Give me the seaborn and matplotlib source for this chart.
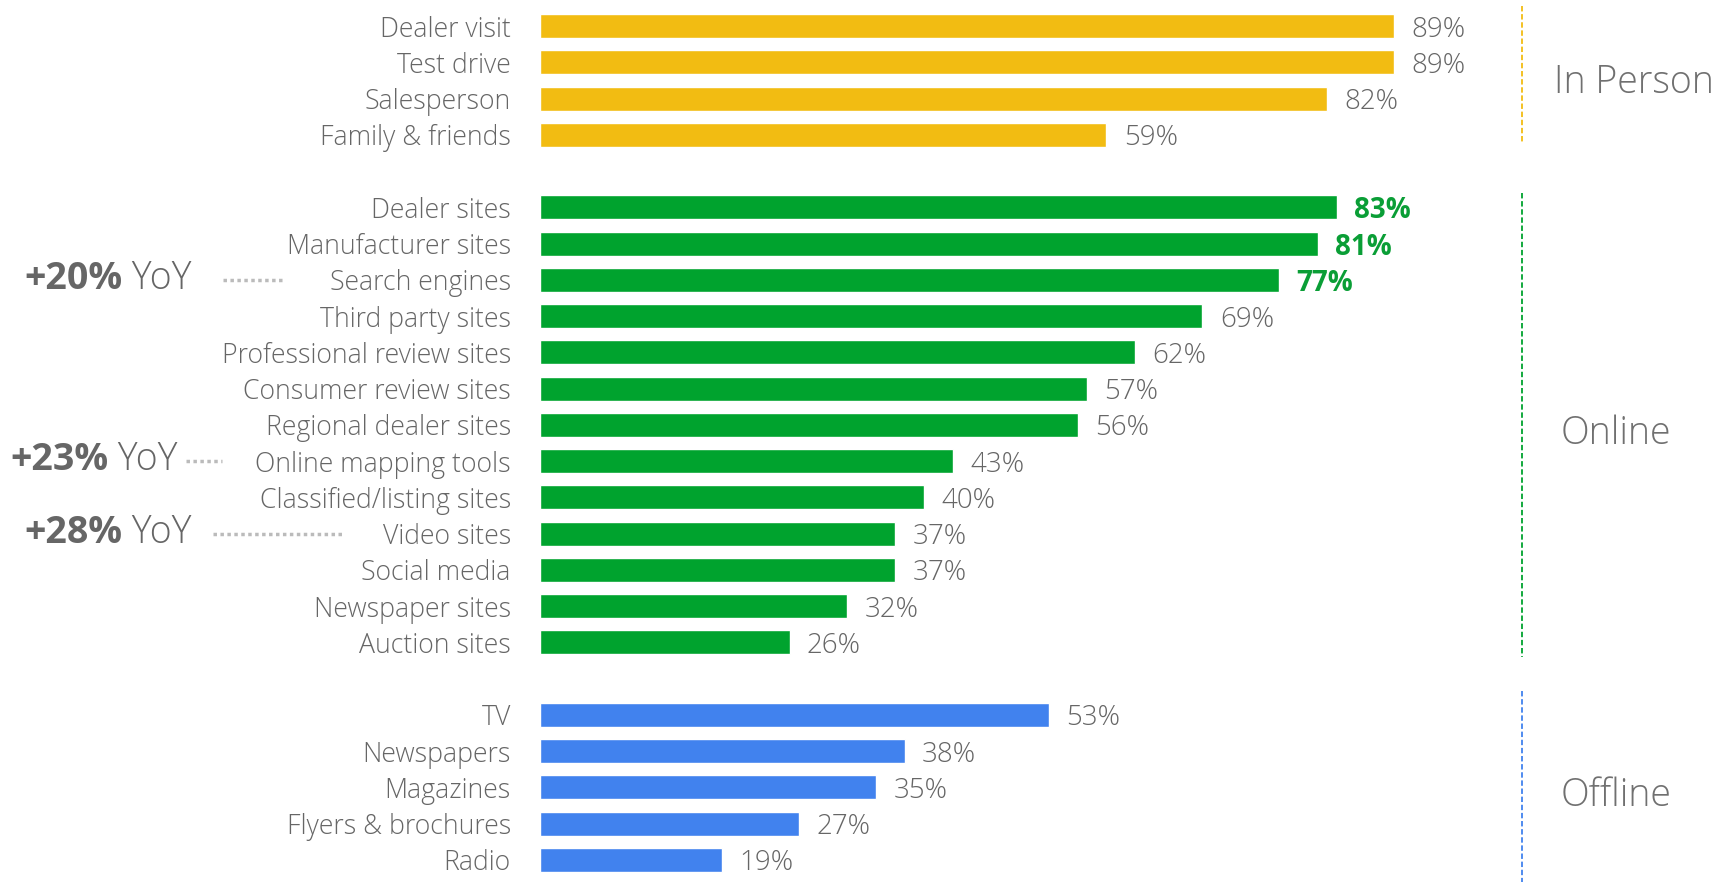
import matplotlib
matplotlib.use('Agg')
import matplotlib.pyplot as plt
import matplotlib.transforms as mtransforms
import seaborn as sns
import pandas as pd

# данные
in_person = ['Dealer visit', 'Test drive', 'Salesperson', 'Family & friends']
in_person_vals = [89, 89, 82, 59]
online = ['Dealer sites', 'Manufacturer sites', 'Search engines', 'Third party sites',
          'Professional review sites', 'Consumer review sites', 'Regional dealer sites',
          'Online mapping tools', 'Classified/listing sites', 'Video sites', 'Social media',
          'Newspaper sites', 'Auction sites']
online_vals = [83, 81, 77, 69, 62, 57, 56, 43, 40, 37, 37, 32, 26]
offline = ['TV', 'Newspapers', 'Magazines', 'Flyers & brochures', 'Radio']
offline_vals = [53, 38, 35, 27, 19]
group_names = ['In Person', 'Online', 'Offline']
highlighted = ['Dealer sites', 'Manufacturer sites', 'Search engines']
yoy_rows = ['Search engines', 'Online mapping tools', 'Video sites']
yoy_labels = ['+20%', '+23%', '+28%']

colors = {'In Person': '#F2BC12', 'Online': '#00A32E', 'Offline': '#4182EE'}
GRAY = '#666666'

sns.set_style('white')
plt.rcParams['font.family'] = ['Open Sans', 'DejaVu Sans']

# собираем таблицу с позициями строк (пустая строка между группами)
rows = []
pos = 0
group_span = {}
for g, cats, vals in zip(group_names, [in_person, online, offline],
                         [in_person_vals, online_vals, offline_vals]):
    start = pos
    for c, v in zip(cats, vals):
        rows.append({'cat': c, 'val': v, 'group': g, 'pos': pos})
        pos += 1
    group_span[g] = (start, pos - 1)
    pos += 1
df = pd.DataFrame(rows)

fig = plt.figure(figsize=(17.17, 8.86), dpi=100)
ax = fig.add_axes([0.3145, 0.009, 1 - 0.3145, 0.982])

sns.barplot(data=df, x='val', y='pos', hue='group', palette=colors, orient='h',
            native_scale=True, dodge=False, legend=False, width=0.66, ax=ax,
            saturation=1)

ax.set_xlim(0, 122.6)
ax.set_ylim(23.5, -0.5)
ax.set_yticks(df['pos'])
ax.set_yticklabels(df['cat'], fontsize=19.2, color=GRAY, fontweight='light')
ax.tick_params(axis='y', length=0, pad=21)
ax.set_xticks([])
ax.set_xlabel('')
ax.set_ylabel('')
sns.despine(ax=ax, left=True, bottom=True)

# подписи значений
for _, r in df.iterrows():
    if r['cat'] in highlighted:
        ax.annotate(f"{r['val']}%", (r['val'], r['pos']), xytext=(12.5, 0),
                    textcoords='offset points', va='center_baseline', ha='left',
                    fontsize=20, color='#0A9E36', fontweight='bold')
    else:
        ax.annotate(f"{r['val']}%", (r['val'], r['pos']), xytext=(12.5, 0),
                    textcoords='offset points', va='center_baseline', ha='left',
                    fontsize=20, color=GRAY, fontweight='light')

# пунктирные линии и названия групп
label_x = {'In Person': 114.0, 'Online': 112.1, 'Offline': 112.1}
label_dy = {'In Person': -0.05, 'Online': 0.12, 'Offline': 0.12}
line_ext = {'In Person': (0.55, 0.2), 'Online': (0.4, 0.4), 'Offline': (0.65, 0.6)}
for g in group_names:
    s, e = group_span[g]
    a, b = line_ext[g]
    ax.plot([102.3, 102.3], [s - a, e + b], color=colors[g], linestyle=(0, (3, 1.5)),
            linewidth=1.3, clip_on=False)
    ax.text(label_x[g], (s + e) / 2 + label_dy[g], g, ha='center', va='center_baseline',
            fontsize=27, color='#707070', fontweight='light')

# аннотации YoY слева
trans = mtransforms.blended_transform_factory(fig.transFigure, ax.transData)
yoy_text_x = [24, 10, 24]
yoy_line = [(223, 283), (186, 222), (213, 342)]
for row, lab, tx, (x0, x1) in zip(yoy_rows, yoy_labels, yoy_text_x, yoy_line):
    y = df.loc[df['cat'] == row, 'pos'].iloc[0]
    t = ax.text(tx / 1717, y - 0.15, lab, transform=trans, ha='left', va='center_baseline',
                fontsize=27, fontweight='bold', color=GRAY)
    ax.annotate(' YoY', xy=(1, 0.5), xycoords=t, ha='left', va='center',
                fontsize=27, fontweight='light', color=GRAY)
    ax.plot([x0 / 1717, x1 / 1717], [y, y], transform=trans, color='#BBBBBB',
            linestyle=(0, (1, 1)), linewidth=2.5, clip_on=False)

fig.savefig('out.png', dpi=100, facecolor='white')
